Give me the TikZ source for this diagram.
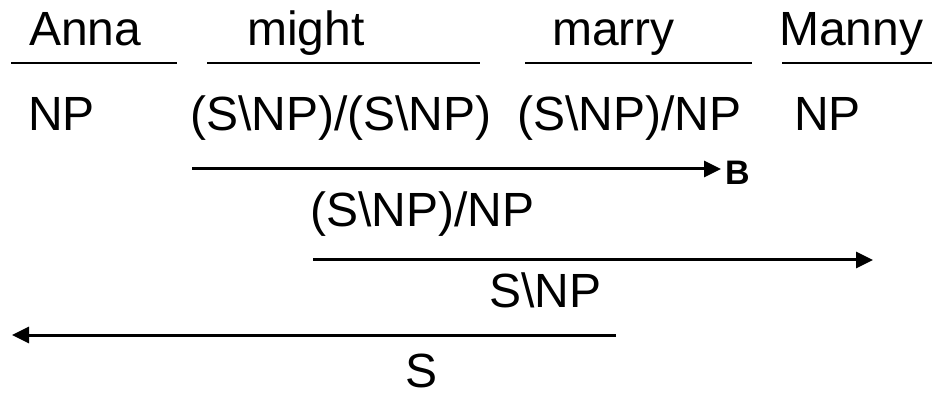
\documentclass[tikz,border=0pt]{standalone}
\usepackage{fontspec}
\setmainfont{Liberation Sans}
\usetikzlibrary{arrows.meta}
\begin{document}
\begin{tikzpicture}[x=1pt,y=-1pt,
  cat/.style={anchor=base west,inner sep=0pt,font=\fontsize{48}{52}\selectfont},
  rulelabel/.style={anchor=base west,inner sep=0pt,font=\fontsize{34}{38}\selectfont\bfseries},
  lexline/.style={line width=2.3pt},
  combline/.style={line width=3pt,-{Triangle[length=17pt,width=16pt]}}]
\useasboundingbox (0,0) rectangle (932,398);
% words
\node[cat] (w1) at (29,46) {Anna};
\node[cat] (w2) at (247,46) {might};
\node[cat] (w3) at (552,46) {marry};
\node[cat] (w4) at (779,46) {Manny};
% lexical rules
\coordinate (l1a) at (11,63);  \coordinate (l1b) at (177,63);
\coordinate (l2a) at (207,63); \coordinate (l2b) at (480,63);
\coordinate (l3a) at (525,63); \coordinate (l3b) at (752,63);
\coordinate (l4a) at (782,63); \coordinate (l4b) at (932,63);
\draw[lexline] (l1a) -- (l1b);
\draw[lexline] (l2a) -- (l2b);
\draw[lexline] (l3a) -- (l3b);
\draw[lexline] (l4a) -- (l4b);
% lexical categories
\node[cat] (c1) at (28,131) {NP};
\node[cat] (c2) at (190,131) {(S\textbackslash NP)/(S\textbackslash NP)};
\node[cat] (c3) at (517,131) {(S\textbackslash NP)/NP};
\node[cat] (c4) at (794,131) {NP};
% forward composition
\coordinate (r1a) at (192,169); \coordinate (r1b) at (721,169);
\draw[combline] (r1a) -- (r1b);
\node[rulelabel] (b) at (725,185) {B};
\node[cat] (d1) at (310,227) {(S\textbackslash NP)/NP};
% forward application
\coordinate (r2a) at (313,260); \coordinate (r2b) at (873,260);
\draw[combline] (r2a) -- (r2b);
\node[cat] (d2) at (489,307) {S\textbackslash NP};
% backward application
\coordinate (r3a) at (616,335); \coordinate (r3b) at (12,335);
\draw[combline] (r3a) -- (r3b);
\node[cat] (d3) at (405,387) {S};
\end{tikzpicture}
\end{document}
